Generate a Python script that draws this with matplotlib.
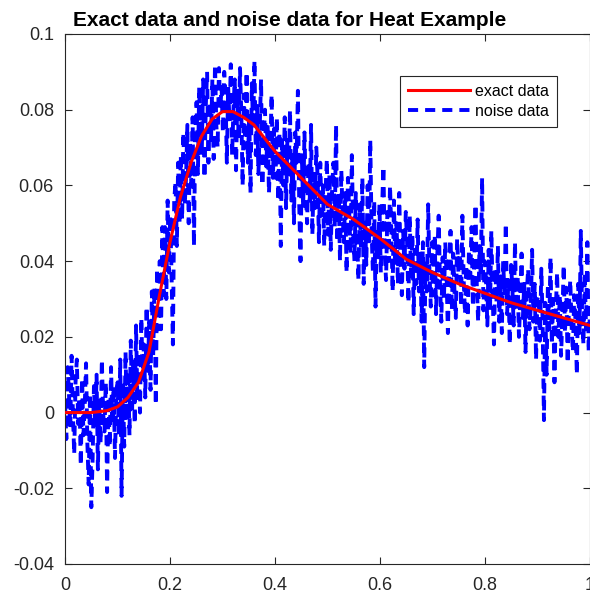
import matplotlib
matplotlib.use('Agg')
import matplotlib.pyplot as plt
import numpy as np

plt.rcParams.update({
    'font.family': ['Liberation Sans', 'DejaVu Sans'],
    'font.size': 13,
    'axes.linewidth': 0.8,
})

# exact data (y in thousandths)
exact_x = [0.0, 0.05, 0.08, 0.10, 0.12, 0.14, 0.16, 0.18, 0.20, 0.22, 0.24,
           0.26, 0.28, 0.30, 0.32, 0.34, 0.36, 0.38, 0.40, 0.45, 0.50, 0.55,
           0.60, 0.65, 0.70, 0.75, 0.80, 0.85, 0.90, 0.95, 1.00]
exact_y = [0, 0, 0.5, 1.5, 4, 8, 16, 31, 45, 57, 66,
           73, 77.5, 79.5, 79.5, 78, 76, 72.5, 69, 62, 55, 51,
           46, 40.5, 37, 34, 31.5, 29, 27, 25, 23]

# noise data, estimated from the blue dashes (thousandths), evenly spaced in x
noise_y = [
    # 0.0 - 0.1
    3, -7, 12, 5, -4, 15, 0, -11, 8, 14, -3, 4, -14, 9, -6, 2, 13, -8, -19, 5,
    -25, -12, 7, -4, 10, -15, 3, -8, 14, 0, -5, 8, -21, 4, -9, 12, -3, 7, -12, 6,
    # 0.1 - 0.2
    8, -6, 14, -22, 8, -9, 16, -2, 11, -6, 19, 1, 14, -3, 23, 3, 16, 0, 25, 9,
    18, 4, 28, 11, 24, 6, 32, 15, 33, 2, 38, 22, 40, 22, 49, 31, 49, 30, 56, 37,
    # 0.2 - 0.3
    52, 36, 18, 56, 61, 44, 66, 50, 68, 51, 74, 55, 62, 76, 50, 71, 60, 78, 44, 73,
    82, 63, 86, 68, 70, 88, 62, 81, 90, 66, 82, 72, 88, 67, 92, 76, 70, 91, 80, 86,
    # 0.3 - 0.4
    74, 90, 84, 66, 86, 77, 92, 68, 80, 88, 64, 85, 72, 91, 79, 60, 84, 70, 90, 66,
    79, 58, 87, 75, 93, 68, 81, 63, 76, 88, 60, 72, 80, 65, 76, 58, 68, 84, 62, 75,
    # 0.4 - 0.5
    62, 78, 56, 74, 44, 72, 60, 78, 54, 72, 62, 80, 56, 69, 50, 74, 66, 85, 55, 40,
    68, 54, 74, 58, 50, 66, 56, 76, 47, 63, 54, 70, 62, 45, 66, 52, 60, 44, 58, 67,
    # 0.5 - 0.6
    47, 63, 43, 59, 66, 49, 76, 45, 58, 40, 64, 52, 45, 58, 37, 62, 53, 42, 68, 48,
    40, 58, 46, 35, 55, 43, 62, 34, 51, 39, 60, 44, 72, 48, 37, 56, 28, 49, 41, 55,
    # 0.6 - 0.7
    37, 54, 65, 42, 35, 53, 40, 60, 48, 32, 56, 39, 50, 34, 58, 40, 31, 48, 38, 53,
    45, 29, 52, 36, 47, 26, 43, 34, 51, 32, 42, 24, 45, 12, 40, 32, 55, 37, 28, 45,
    # 0.7 - 0.8
    31, 47, 26, 42, 52, 34, 24, 41, 30, 45, 36, 21, 39, 48, 27, 42, 32, 25, 46, 37,
    42, 28, 52, 35, 26, 39, 23, 43, 36, 49, 28, 39, 55, 33, 24, 44, 36, 62, 27, 40,
    # 0.8 - 0.9
    35, 23, 43, 27, 48, 32, 18, 38, 29, 44, 24, 36, 21, 40, 31, 50, 26, 35, 18, 39,
    33, 23, 45, 27, 36, 20, 30, 42, 25, 34, 16, 32, 38, 22, 28, 43, 24, 34, 14, 30,
    # 0.9 - 1.0
    31, 19, 38, 24, -2, 29, 10, 34, 22, 41, 18, 30, 8, 27, 37, 20, 31, 15, 25, 39,
    21, 33, 13, 28, 35, 23, 16, 31, 24, 10, 34, 21, 48, 26, 18, 37, 22, 45, 16, 28,
]

x_ticks = [0, 0.2, 0.4, 0.6, 0.8, 1.0]
y_ticks = [-0.04, -0.02, 0, 0.02, 0.04, 0.06, 0.08, 0.1]

fig = plt.figure(figsize=(5.9, 5.93), dpi=100)
ax = fig.add_axes([65 / 590, 29 / 593, 525 / 590, 530 / 593])

xn = np.linspace(0, 1, len(noise_y))
ax.plot(exact_x, np.array(exact_y) / 1000, color='#ff0000', lw=2.2,
        label='exact data', zorder=3)
ax.plot(xn, np.array(noise_y) / 1000, color='#0000ff', lw=2.8,
        linestyle=(0, (2.6, 1.8)), label='noise data', zorder=2)

ax.set_xlim(0, 1)
ax.set_ylim(-0.04, 0.1)
ax.set_xticks(x_ticks)
ax.set_xticklabels(['%g' % t for t in x_ticks])
ax.set_yticks(y_ticks)
ax.set_yticklabels(['%g' % t for t in y_ticks])
ax.tick_params(direction='in', top=True, right=True, length=5, width=0.8,
               labelsize=13, colors='#262626')
ax.tick_params(axis='y', pad=8)
ax.tick_params(axis='x', pad=9)
for s in ax.spines.values():
    s.set_color('#262626')

ax.set_title('Exact data and noise data for Heat Example', fontweight='bold',
             fontsize=15, x=(290 - 65) / 525, pad=6)

leg = ax.legend(loc='upper right', bbox_to_anchor=((557 - 65) / 525, (564 - 76) / 530),
                bbox_transform=ax.transAxes, fontsize=11.5, frameon=True,
                fancybox=False, edgecolor='#262626', handlelength=3.9,
                borderpad=0.5, labelspacing=0.3, handletextpad=0.3,
                borderaxespad=0, framealpha=1)
leg.get_frame().set_linewidth(0.8)

fig.savefig('out.png', dpi=100)
